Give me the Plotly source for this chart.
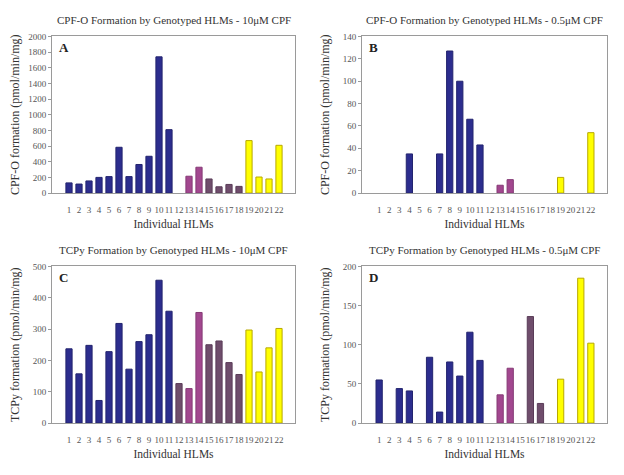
import plotly.graph_objects as go
from plotly.subplots import make_subplots

HLMS = list(range(1, 23))
# genotype group of each HLM (drives bar colour)
GROUPS = ["blue"] * 11 + ["mauve"] + ["magenta"] * 2 + ["mauve"] * 4 + ["yellow"] * 4

CPFO_10 = [130, 115, 155, 200, 210, 585, 210, 365, 470, 1740, 810, 0,
           215, 330, 180, 80, 110, 85, 670, 205, 180, 610]
CPFO_05 = [0, 0, 0, 35, 0, 0, 35, 127, 100, 66, 43, 0,
           7, 12, 0, 0, 0, 0, 14, 0, 0, 54]
TCPY_10 = [237, 157, 248, 72, 228, 318, 172, 260, 282, 456, 357, 126,
           110, 353, 250, 262, 193, 155, 297, 163, 240, 302]
TCPY_05 = [55, 0, 44, 41, 0, 84, 14, 78, 60, 116, 80, 0,
           36, 70, 0, 136, 25, 0, 56, 0, 185, 102]

PANELS = [
    ("A", "CPF-O Formation by Genotyped HLMs - 10μM CPF", "CPF-O formation (pmol/min/mg)", CPFO_10, 2000, 200),
    ("B", "CPF-O Formation by Genotyped HLMs - 0.5μM CPF", "CPF-O formation (pmol/min/mg)", CPFO_05, 140, 20),
    ("C", "TCPy Formation by Genotyped HLMs - 10μM CPF", "TCPy formation (pmol/min/mg)", TCPY_10, 500, 100),
    ("D", "TCPy Formation by Genotyped HLMs - 0.5μM CPF", "TCPy formation (pmol/min/mg)", TCPY_05, 200, 50),
]

FILL = {"blue": "#2c2d8e", "mauve": "#6f4d6c", "magenta": "#a2478f", "yellow": "#ffff00"}
EDGE = {"blue": "#23246e", "mauve": "#5a3c58", "magenta": "#853a75", "yellow": "#b8a800"}

# page body has an 8px margin, so the figure is drawn 8px in from the corner
OFF = 8
W, H = 624 - OFF, 475 - OFF
# plot boxes in window pixels: (left, right, top, bottom)
BOXES = [(52, 295, 32, 192), (362, 607, 32, 192), (52, 295, 267, 427), (362, 607, 267, 427)]

FONT = "Liberation Serif"
GREY = "#555555"

fig = make_subplots(rows=2, cols=2)

for i, (lab, title, ytitle, vals, ymax, dt) in enumerate(PANELS):
    r, c = i // 2 + 1, i % 2 + 1
    y = [v if v else None for v in vals]
    fig.add_trace(go.Bar(
        x=HLMS, y=y, width=0.62,
        marker=dict(color=[FILL[g] for g in GROUPS],
                    line=dict(color=[EDGE[g] for g in GROUPS], width=1)),
        showlegend=False,
    ), row=r, col=c)

    left, right, top, bottom = [v - OFF for v in BOXES[i]]
    xd = [left / W, right / W]
    yd = [(H - bottom) / H, (H - top) / H]
    fig.update_xaxes(domain=xd, range=[-0.7, 23.6], tickvals=HLMS,
                     ticktext=[str(h) for h in HLMS], tickangle=0,
                     tickfont=dict(size=9, color=GREY, family=FONT),
                     showline=True, linecolor="#9a9a9a", linewidth=1, mirror=True,
                     showgrid=False, zeroline=False, ticks="", ticklabelstandoff=8,
                     title=dict(text="Individual HLMs", font=dict(size=11.5, color="#333", family=FONT),
                                standoff=6),
                     row=r, col=c)
    fig.update_yaxes(domain=yd, range=[0, ymax], dtick=dt,
                     tickfont=dict(size=9, color=GREY, family=FONT),
                     showline=True, linecolor="#9a9a9a", linewidth=1, mirror=True,
                     showgrid=False, zeroline=False, ticks="outside", ticklen=3,
                     tickcolor="#9a9a9a",
                     title=dict(text=ytitle, font=dict(size=12, color="#333", family=FONT),
                                standoff=10),
                     row=r, col=c)

    fig.add_annotation(x=(xd[0] + xd[1]) / 2, y=1 - (top - 17) / H, xref="paper", yref="paper",
                       text=title, showarrow=False, xanchor="center", yanchor="middle",
                       font=dict(size=11, color="#333", family=FONT))
    fig.add_annotation(x=(left + 5) / W, y=1 - (top + 11) / H, xref="paper", yref="paper",
                       text="<b>" + lab + "</b>", showarrow=False, xanchor="left", yanchor="middle",
                       font=dict(size=13, color="#222", family=FONT))

fig.update_layout(
    width=W, height=H,
    margin=dict(l=0, r=0, t=0, b=0),
    paper_bgcolor="white", plot_bgcolor="white",
    bargap=0.4,
)

fig.write_html("out.html")
